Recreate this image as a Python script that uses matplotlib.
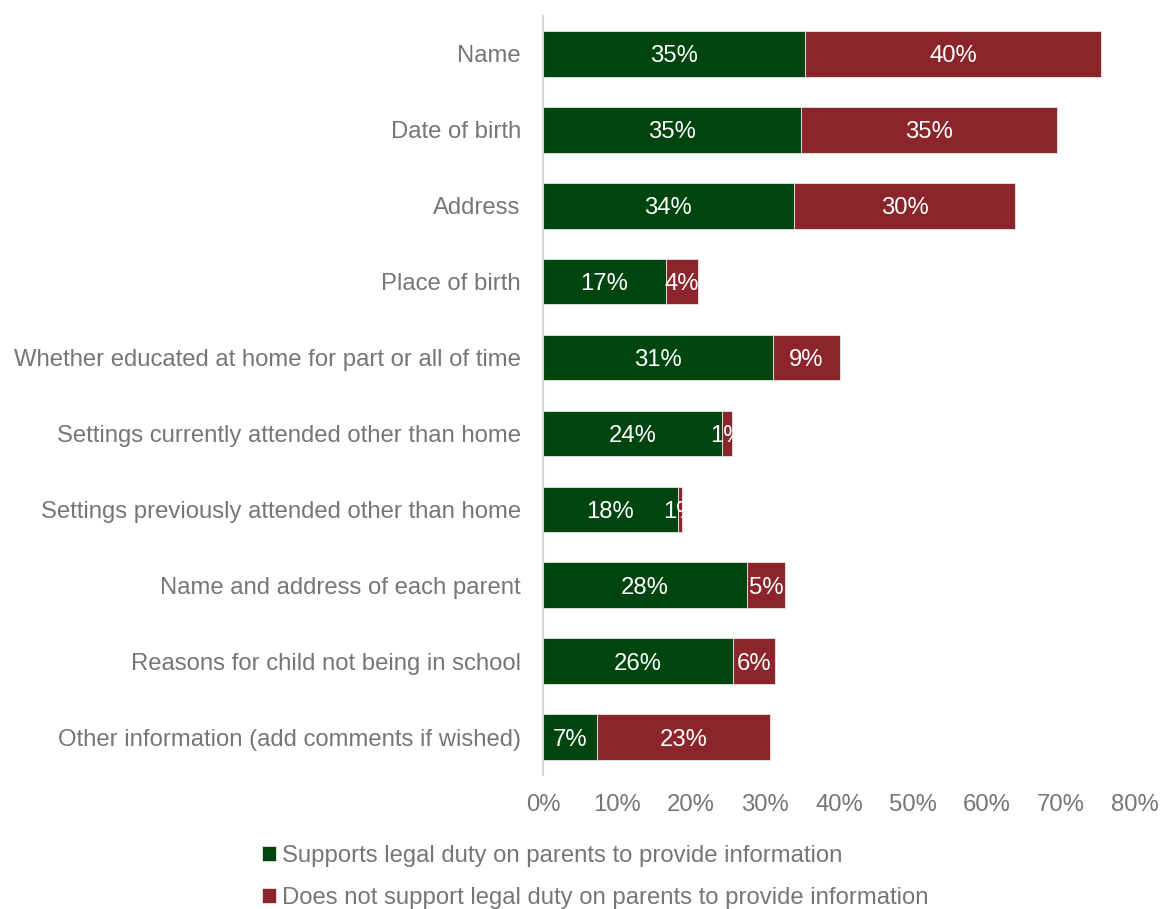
import matplotlib.pyplot as plt
import numpy as np

plt.rcParams['font.family'] = ['Liberation Sans', 'DejaVu Sans']

categories = [
    "Name",
    "Date of birth",
    "Address",
    "Place of birth",
    "Whether educated at home for part or all of time",
    "Settings currently attended other than home",
    "Settings previously attended other than home",
    "Name and address of each parent",
    "Reasons for child not being in school",
    "Other information (add comments if wished)",
]
supports = [35.4, 34.9, 33.9, 16.6, 31.1, 24.2, 18.2, 27.6, 25.7, 7.3]
not_supports = [40.0, 34.6, 29.9, 4.4, 9.0, 1.4, 0.6, 5.1, 5.7, 23.4]
series_names = [
    "Supports legal duty on parents to provide information",
    "Does not support legal duty on parents to provide information",
]

green = "#00450f"
red = "#8b252b"
grey = "#767676"
fs = 17.2

fig = plt.figure(figsize=(11.63, 9.09), dpi=100)
ax = fig.add_axes([0.4669, 0.1474, 0.509, 0.835])

y = np.arange(len(categories))
b1 = ax.barh(y, supports, height=0.6, color=green, edgecolor="#e8e8e8", linewidth=0.6,
             label=series_names[0])
b2 = ax.barh(y, not_supports, left=supports, height=0.6, color=red, edgecolor="#e8e8e8",
             linewidth=0.6, label=series_names[1])

# segment labels, rounded to whole percent
for bars in (b1, b2):
    for bar in bars:
        w = bar.get_width()
        ax.text(bar.get_x() + w / 2, bar.get_y() + bar.get_height() / 2,
                f"{round(w):d}%", ha="center", va="center_baseline", color="white", fontsize=fs)

ax.set_ylim(len(categories) - 0.5, -0.5)
ax.set_xlim(0, 80)
ax.set_yticks(y)
ax.set_yticklabels(categories, fontsize=fs, color=grey)
ax.set_xticks(np.arange(0, 81, 10))
ax.set_xticklabels([f"{v}%" for v in range(0, 81, 10)], fontsize=fs, color=grey)
ax.tick_params(length=0)
ax.tick_params(axis="y", pad=16)
ax.tick_params(axis="x", pad=14)

for side in ("top", "right", "bottom"):
    ax.spines[side].set_visible(False)
ax.spines["left"].set_color("#d9d9d9")
ax.spines["left"].set_linewidth(1.5)

fig.legend(loc="upper left", bbox_to_anchor=(262 / 1163, 1 - 845 / 909),
           frameon=False, fontsize=fs, labelcolor=grey,
           handlelength=0.6, handleheight=0.6, handletextpad=0.25,
           labelspacing=0.85, borderaxespad=0, borderpad=0)

fig.savefig("out.png", dpi=100)
